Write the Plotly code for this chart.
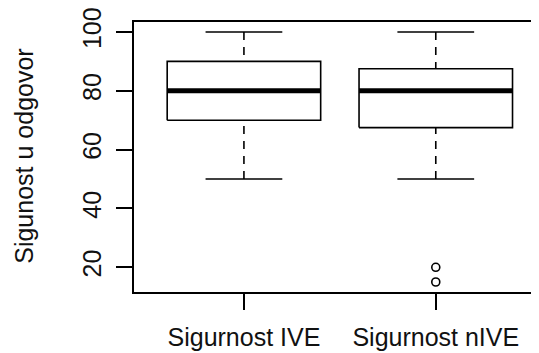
import plotly.graph_objects as go

categories = ["Sigurnost IVE", "Sigurnost nIVE"]
whisker_low = [50, 50]
q1 = [70, 67.5]
median = [80, 80]
q3 = [90, 87.5]
whisker_high = [100, 100]
outliers = [[], [20, 15]]
y_ticks = [20, 40, 60, 80, 100]

FONT = "Liberation Sans, Arial, sans-serif"
BOX_HALF = 0.4
CAP_HALF = 0.2
LW = 1.6

fig = go.Figure()
for i, name in enumerate(categories):
    x = i + 1
    # box
    fig.add_trace(go.Scatter(
        x=[x - BOX_HALF, x + BOX_HALF, x + BOX_HALF, x - BOX_HALF, x - BOX_HALF],
        y=[q1[i], q1[i], q3[i], q3[i], q1[i]],
        mode="lines", line=dict(color="black", width=LW), hoverinfo="skip"))
    # median
    fig.add_trace(go.Scatter(
        x=[x - BOX_HALF, x + BOX_HALF], y=[median[i], median[i]],
        mode="lines", line=dict(color="black", width=5), hoverinfo="skip"))
    # whiskers (dashed), drawn from the whisker end towards the box
    for a, b in [(whisker_high[i], q3[i]), (whisker_low[i], q1[i])]:
        fig.add_trace(go.Scatter(
            x=[x, x], y=[a, b], mode="lines",
            line=dict(color="black", width=LW, dash="8px,7px"), hoverinfo="skip"))
    # caps
    for v in [whisker_high[i], whisker_low[i]]:
        fig.add_trace(go.Scatter(
            x=[x - CAP_HALF, x + CAP_HALF], y=[v, v], mode="lines",
            line=dict(color="black", width=LW), hoverinfo="skip"))
    # outliers
    if outliers[i]:
        fig.add_trace(go.Scatter(
            x=[x] * len(outliers[i]), y=outliers[i], mode="markers",
            marker=dict(symbol="circle-open", size=8, color="black",
                        line=dict(width=1.6, color="black")),
            hoverinfo="skip"))

fig.add_annotation(
    text="Sigunost u odgovor", xref="paper", yref="paper",
    x=-0.272, y=0.504, showarrow=False, textangle=-90,
    font=dict(family=FONT, size=25, color="#111111"),
    xanchor="center", yanchor="middle")

fig.update_layout(
    width=531, height=345,
    margin=dict(l=126, r=0, t=14, b=61, autoexpand=False),
    paper_bgcolor="white", plot_bgcolor="white",
    showlegend=False,
    font=dict(family=FONT, size=25, color="#111111"),
    xaxis=dict(
        range=[0.427, 2.538], tickvals=[1, 2], ticktext=categories,
        ticks="outside", ticklen=16, tickwidth=LW, tickcolor="black",
        showline=True, linecolor="black", linewidth=LW, mirror=True,
        showgrid=False, zeroline=False, fixedrange=True, automargin=False,
        ticklabelstandoff=6, ticklabeloverflow="allow",
        tickfont=dict(family=FONT, size=25, color="#111111")),
    yaxis=dict(
        range=[11.6, 103.4], tickvals=y_ticks,
        ticktext=[str(v) for v in y_ticks],
        ticks="outside", ticklen=16, tickwidth=LW, tickcolor="black",
        showline=True, linecolor="black", linewidth=LW, mirror=False,
        showgrid=False, zeroline=False, tickangle=-90, fixedrange=True,
        automargin=False, ticklabelstandoff=5, ticklabeloverflow="allow",
        tickfont=dict(family=FONT, size=25, color="#111111")),
)

fig.write_html("out.html")
